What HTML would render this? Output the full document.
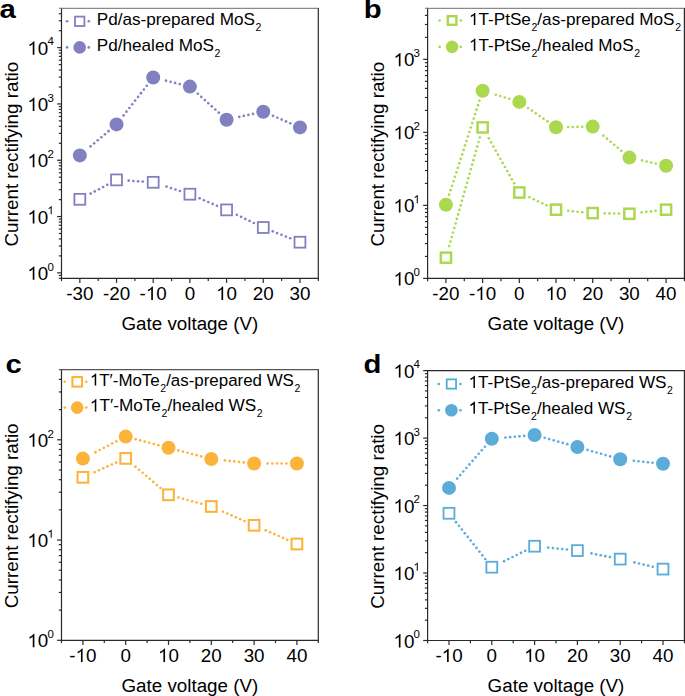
<!DOCTYPE html>
<html><head><meta charset="utf-8"><style>
html,body{margin:0;padding:0;background:#fff;}
svg{display:block;}
text{font-family:"Liberation Sans", sans-serif;fill:#000;}
.one{fill-opacity:0;}
</style></head><body>
<svg width="685" height="696" viewBox="0 0 685 696">
<line x1="60.9" y1="8.3" x2="318.9" y2="8.3" stroke="#8a8a8a" stroke-width="1.2"/>
<path d="M61.5,8.3 L61.5,278.3 L318.3,278.3 L318.3,8.3" fill="none" stroke="#2a2a2a" stroke-width="1.2" stroke-linejoin="miter"/>
<line x1="61.5" y1="278.3" x2="61.5" y2="281.1" stroke="#2a2a2a" stroke-width="1.2"/>
<line x1="79.84" y1="278.3" x2="79.84" y2="282.9" stroke="#2a2a2a" stroke-width="1.2"/>
<line x1="98.19" y1="278.3" x2="98.19" y2="281.1" stroke="#2a2a2a" stroke-width="1.2"/>
<line x1="116.53" y1="278.3" x2="116.53" y2="282.9" stroke="#2a2a2a" stroke-width="1.2"/>
<line x1="134.87" y1="278.3" x2="134.87" y2="281.1" stroke="#2a2a2a" stroke-width="1.2"/>
<line x1="153.21" y1="278.3" x2="153.21" y2="282.9" stroke="#2a2a2a" stroke-width="1.2"/>
<line x1="171.56" y1="278.3" x2="171.56" y2="281.1" stroke="#2a2a2a" stroke-width="1.2"/>
<line x1="189.9" y1="278.3" x2="189.9" y2="282.9" stroke="#2a2a2a" stroke-width="1.2"/>
<line x1="208.24" y1="278.3" x2="208.24" y2="281.1" stroke="#2a2a2a" stroke-width="1.2"/>
<line x1="226.59" y1="278.3" x2="226.59" y2="282.9" stroke="#2a2a2a" stroke-width="1.2"/>
<line x1="244.93" y1="278.3" x2="244.93" y2="281.1" stroke="#2a2a2a" stroke-width="1.2"/>
<line x1="263.27" y1="278.3" x2="263.27" y2="282.9" stroke="#2a2a2a" stroke-width="1.2"/>
<line x1="281.61" y1="278.3" x2="281.61" y2="281.1" stroke="#2a2a2a" stroke-width="1.2"/>
<line x1="299.96" y1="278.3" x2="299.96" y2="282.9" stroke="#2a2a2a" stroke-width="1.2"/>
<line x1="318.3" y1="278.3" x2="318.3" y2="281.1" stroke="#2a2a2a" stroke-width="1.2"/>
<text x="79.84" y="299.9" text-anchor="middle" font-size="18.8">-30</text>
<text x="116.53" y="299.9" text-anchor="middle" font-size="18.8">-20</text>
<text x="153.21" y="299.9" text-anchor="middle" font-size="18.8">-<tspan class="one">1</tspan>0</text>
<text x="189.9" y="299.9" text-anchor="middle" font-size="18.8">0</text>
<text x="226.59" y="299.9" text-anchor="middle" font-size="18.8"><tspan class="one">1</tspan>0</text>
<text x="263.27" y="299.9" text-anchor="middle" font-size="18.8">20</text>
<text x="299.96" y="299.9" text-anchor="middle" font-size="18.8">30</text>
<line x1="58.8" y1="278.3" x2="61.5" y2="278.3" stroke="#2a2a2a" stroke-width="1.2"/>
<line x1="58.8" y1="275.42" x2="61.5" y2="275.42" stroke="#2a2a2a" stroke-width="1.2"/>
<line x1="57.1" y1="272.84" x2="61.5" y2="272.84" stroke="#2a2a2a" stroke-width="1.2"/>
<line x1="58.8" y1="255.9" x2="61.5" y2="255.9" stroke="#2a2a2a" stroke-width="1.2"/>
<line x1="58.8" y1="245.98" x2="61.5" y2="245.98" stroke="#2a2a2a" stroke-width="1.2"/>
<line x1="58.8" y1="238.95" x2="61.5" y2="238.95" stroke="#2a2a2a" stroke-width="1.2"/>
<line x1="58.8" y1="233.49" x2="61.5" y2="233.49" stroke="#2a2a2a" stroke-width="1.2"/>
<line x1="58.8" y1="229.04" x2="61.5" y2="229.04" stroke="#2a2a2a" stroke-width="1.2"/>
<line x1="58.8" y1="225.27" x2="61.5" y2="225.27" stroke="#2a2a2a" stroke-width="1.2"/>
<line x1="58.8" y1="222" x2="61.5" y2="222" stroke="#2a2a2a" stroke-width="1.2"/>
<line x1="58.8" y1="219.12" x2="61.5" y2="219.12" stroke="#2a2a2a" stroke-width="1.2"/>
<line x1="57.1" y1="216.55" x2="61.5" y2="216.55" stroke="#2a2a2a" stroke-width="1.2"/>
<line x1="58.8" y1="199.6" x2="61.5" y2="199.6" stroke="#2a2a2a" stroke-width="1.2"/>
<line x1="58.8" y1="189.68" x2="61.5" y2="189.68" stroke="#2a2a2a" stroke-width="1.2"/>
<line x1="58.8" y1="182.65" x2="61.5" y2="182.65" stroke="#2a2a2a" stroke-width="1.2"/>
<line x1="58.8" y1="177.19" x2="61.5" y2="177.19" stroke="#2a2a2a" stroke-width="1.2"/>
<line x1="58.8" y1="172.74" x2="61.5" y2="172.74" stroke="#2a2a2a" stroke-width="1.2"/>
<line x1="58.8" y1="168.97" x2="61.5" y2="168.97" stroke="#2a2a2a" stroke-width="1.2"/>
<line x1="58.8" y1="165.7" x2="61.5" y2="165.7" stroke="#2a2a2a" stroke-width="1.2"/>
<line x1="58.8" y1="162.82" x2="61.5" y2="162.82" stroke="#2a2a2a" stroke-width="1.2"/>
<line x1="57.1" y1="160.25" x2="61.5" y2="160.25" stroke="#2a2a2a" stroke-width="1.2"/>
<line x1="58.8" y1="143.3" x2="61.5" y2="143.3" stroke="#2a2a2a" stroke-width="1.2"/>
<line x1="58.8" y1="133.39" x2="61.5" y2="133.39" stroke="#2a2a2a" stroke-width="1.2"/>
<line x1="58.8" y1="126.35" x2="61.5" y2="126.35" stroke="#2a2a2a" stroke-width="1.2"/>
<line x1="58.8" y1="120.9" x2="61.5" y2="120.9" stroke="#2a2a2a" stroke-width="1.2"/>
<line x1="58.8" y1="116.44" x2="61.5" y2="116.44" stroke="#2a2a2a" stroke-width="1.2"/>
<line x1="58.8" y1="112.67" x2="61.5" y2="112.67" stroke="#2a2a2a" stroke-width="1.2"/>
<line x1="58.8" y1="109.41" x2="61.5" y2="109.41" stroke="#2a2a2a" stroke-width="1.2"/>
<line x1="58.8" y1="106.53" x2="61.5" y2="106.53" stroke="#2a2a2a" stroke-width="1.2"/>
<line x1="57.1" y1="103.95" x2="61.5" y2="103.95" stroke="#2a2a2a" stroke-width="1.2"/>
<line x1="58.8" y1="87" x2="61.5" y2="87" stroke="#2a2a2a" stroke-width="1.2"/>
<line x1="58.8" y1="77.09" x2="61.5" y2="77.09" stroke="#2a2a2a" stroke-width="1.2"/>
<line x1="58.8" y1="70.05" x2="61.5" y2="70.05" stroke="#2a2a2a" stroke-width="1.2"/>
<line x1="58.8" y1="64.6" x2="61.5" y2="64.6" stroke="#2a2a2a" stroke-width="1.2"/>
<line x1="58.8" y1="60.14" x2="61.5" y2="60.14" stroke="#2a2a2a" stroke-width="1.2"/>
<line x1="58.8" y1="56.37" x2="61.5" y2="56.37" stroke="#2a2a2a" stroke-width="1.2"/>
<line x1="58.8" y1="53.11" x2="61.5" y2="53.11" stroke="#2a2a2a" stroke-width="1.2"/>
<line x1="58.8" y1="50.23" x2="61.5" y2="50.23" stroke="#2a2a2a" stroke-width="1.2"/>
<line x1="57.1" y1="47.65" x2="61.5" y2="47.65" stroke="#2a2a2a" stroke-width="1.2"/>
<line x1="58.8" y1="30.7" x2="61.5" y2="30.7" stroke="#2a2a2a" stroke-width="1.2"/>
<line x1="58.8" y1="20.79" x2="61.5" y2="20.79" stroke="#2a2a2a" stroke-width="1.2"/>
<line x1="58.8" y1="13.76" x2="61.5" y2="13.76" stroke="#2a2a2a" stroke-width="1.2"/>
<line x1="58.8" y1="8.3" x2="61.5" y2="8.3" stroke="#8a8a8a" stroke-width="1.2"/>
<text x="53.8" y="279.84" text-anchor="end" font-size="18.8"><tspan class="one">1</tspan>0<tspan font-size="11.5" dx="-0.9" dy="-9.2">0</tspan></text>
<text x="53.8" y="223.55" text-anchor="end" font-size="18.8"><tspan class="one">1</tspan>0<tspan font-size="11.5" dx="-0.9" dy="-9.2"><tspan class="one">1</tspan></tspan></text>
<text x="53.8" y="167.25" text-anchor="end" font-size="18.8"><tspan class="one">1</tspan>0<tspan font-size="11.5" dx="-0.9" dy="-9.2">2</tspan></text>
<text x="53.8" y="110.95" text-anchor="end" font-size="18.8"><tspan class="one">1</tspan>0<tspan font-size="11.5" dx="-0.9" dy="-9.2">3</tspan></text>
<text x="53.8" y="54.65" text-anchor="end" font-size="18.8"><tspan class="one">1</tspan>0<tspan font-size="11.5" dx="-0.9" dy="-9.2">4</tspan></text>
<text x="189.9" y="329.6" text-anchor="middle" font-size="18.8">Gate voltage (V)</text>
<text transform="translate(17.6,154.15) rotate(-90)" x="0" y="0" text-anchor="middle" font-size="18.8">Current rectifying ratio</text>
<circle cx="107.25" cy="184.81" r="1.325" fill="#8180c1"/>
<circle cx="103.09" cy="187.01" r="1.325" fill="#8180c1"/>
<circle cx="98.94" cy="189.2" r="1.325" fill="#8180c1"/>
<circle cx="94.78" cy="191.4" r="1.325" fill="#8180c1"/>
<circle cx="90.63" cy="193.6" r="1.325" fill="#8180c1"/>
<circle cx="142.74" cy="181.61" r="1.325" fill="#8180c1"/>
<circle cx="138.05" cy="181.31" r="1.325" fill="#8180c1"/>
<circle cx="133.36" cy="181" r="1.325" fill="#8180c1"/>
<circle cx="128.67" cy="180.69" r="1.325" fill="#8180c1"/>
<circle cx="179.91" cy="190.96" r="1.325" fill="#8180c1"/>
<circle cx="175.44" cy="189.51" r="1.325" fill="#8180c1"/>
<circle cx="170.97" cy="188.06" r="1.325" fill="#8180c1"/>
<circle cx="166.5" cy="186.61" r="1.325" fill="#8180c1"/>
<circle cx="216.93" cy="205.77" r="1.325" fill="#8180c1"/>
<circle cx="212.61" cy="203.92" r="1.325" fill="#8180c1"/>
<circle cx="208.29" cy="202.07" r="1.325" fill="#8180c1"/>
<circle cx="203.97" cy="200.22" r="1.325" fill="#8180c1"/>
<circle cx="199.65" cy="198.37" r="1.325" fill="#8180c1"/>
<circle cx="253.8" cy="222.96" r="1.325" fill="#8180c1"/>
<circle cx="249.57" cy="220.93" r="1.325" fill="#8180c1"/>
<circle cx="245.33" cy="218.89" r="1.325" fill="#8180c1"/>
<circle cx="241.09" cy="216.86" r="1.325" fill="#8180c1"/>
<circle cx="236.85" cy="214.83" r="1.325" fill="#8180c1"/>
<circle cx="290.21" cy="238.29" r="1.325" fill="#8180c1"/>
<circle cx="285.85" cy="236.55" r="1.325" fill="#8180c1"/>
<circle cx="281.48" cy="234.8" r="1.325" fill="#8180c1"/>
<circle cx="277.12" cy="233.05" r="1.325" fill="#8180c1"/>
<circle cx="272.76" cy="231.3" r="1.325" fill="#8180c1"/>
<circle cx="108.51" cy="131.18" r="1.325" fill="#8180c1"/>
<circle cx="104.92" cy="134.21" r="1.325" fill="#8180c1"/>
<circle cx="101.33" cy="137.24" r="1.325" fill="#8180c1"/>
<circle cx="97.74" cy="140.28" r="1.325" fill="#8180c1"/>
<circle cx="94.15" cy="143.31" r="1.325" fill="#8180c1"/>
<circle cx="90.56" cy="146.34" r="1.325" fill="#8180c1"/>
<circle cx="146.75" cy="85.77" r="1.325" fill="#8180c1"/>
<circle cx="143.85" cy="89.47" r="1.325" fill="#8180c1"/>
<circle cx="140.95" cy="93.17" r="1.325" fill="#8180c1"/>
<circle cx="138.06" cy="96.88" r="1.325" fill="#8180c1"/>
<circle cx="135.16" cy="100.58" r="1.325" fill="#8180c1"/>
<circle cx="132.27" cy="104.28" r="1.325" fill="#8180c1"/>
<circle cx="129.37" cy="107.98" r="1.325" fill="#8180c1"/>
<circle cx="126.47" cy="111.68" r="1.325" fill="#8180c1"/>
<circle cx="123.58" cy="115.39" r="1.325" fill="#8180c1"/>
<circle cx="179.71" cy="84.07" r="1.325" fill="#8180c1"/>
<circle cx="175.15" cy="82.94" r="1.325" fill="#8180c1"/>
<circle cx="170.59" cy="81.81" r="1.325" fill="#8180c1"/>
<circle cx="166.02" cy="80.68" r="1.325" fill="#8180c1"/>
<circle cx="218.79" cy="112.67" r="1.325" fill="#8180c1"/>
<circle cx="215.3" cy="109.52" r="1.325" fill="#8180c1"/>
<circle cx="211.81" cy="106.37" r="1.325" fill="#8180c1"/>
<circle cx="208.32" cy="103.22" r="1.325" fill="#8180c1"/>
<circle cx="204.83" cy="100.07" r="1.325" fill="#8180c1"/>
<circle cx="201.34" cy="96.92" r="1.325" fill="#8180c1"/>
<circle cx="197.85" cy="93.78" r="1.325" fill="#8180c1"/>
<circle cx="253.01" cy="113.94" r="1.325" fill="#8180c1"/>
<circle cx="248.42" cy="114.94" r="1.325" fill="#8180c1"/>
<circle cx="243.83" cy="115.94" r="1.325" fill="#8180c1"/>
<circle cx="239.24" cy="116.94" r="1.325" fill="#8180c1"/>
<circle cx="290.3" cy="123.27" r="1.325" fill="#8180c1"/>
<circle cx="285.98" cy="121.42" r="1.325" fill="#8180c1"/>
<circle cx="281.66" cy="119.57" r="1.325" fill="#8180c1"/>
<circle cx="277.34" cy="117.72" r="1.325" fill="#8180c1"/>
<circle cx="273.02" cy="115.87" r="1.325" fill="#8180c1"/>
<rect x="74.39" y="193.85" width="10.9" height="10.9" fill="#fff" stroke="#8180c1" stroke-width="1.8"/>
<rect x="111.08" y="174.45" width="10.9" height="10.9" fill="#fff" stroke="#8180c1" stroke-width="1.8"/>
<rect x="147.76" y="176.85" width="10.9" height="10.9" fill="#fff" stroke="#8180c1" stroke-width="1.8"/>
<rect x="184.45" y="188.75" width="10.9" height="10.9" fill="#fff" stroke="#8180c1" stroke-width="1.8"/>
<rect x="221.14" y="204.45" width="10.9" height="10.9" fill="#fff" stroke="#8180c1" stroke-width="1.8"/>
<rect x="257.82" y="222.05" width="10.9" height="10.9" fill="#fff" stroke="#8180c1" stroke-width="1.8"/>
<rect x="294.51" y="236.75" width="10.9" height="10.9" fill="#fff" stroke="#8180c1" stroke-width="1.8"/>
<circle cx="79.84" cy="155.4" r="7.0" fill="#8180c1"/>
<circle cx="116.53" cy="124.4" r="7.0" fill="#8180c1"/>
<circle cx="153.21" cy="77.5" r="7.0" fill="#8180c1"/>
<circle cx="189.9" cy="86.6" r="7.0" fill="#8180c1"/>
<circle cx="226.59" cy="119.7" r="7.0" fill="#8180c1"/>
<circle cx="263.27" cy="111.7" r="7.0" fill="#8180c1"/>
<circle cx="299.96" cy="127.4" r="7.0" fill="#8180c1"/>
<circle cx="67.1" cy="21.3" r="1.325" fill="#8180c1"/>
<circle cx="88.8" cy="21.3" r="1.325" fill="#8180c1"/>
<rect x="75" y="16.6" width="9.4" height="9.4" fill="#fff" stroke="#8180c1" stroke-width="1.8"/>
<text x="96.75" y="25.1" font-size="17.15"><tspan font-size="17.15" dy="0">Pd/as-prepared MoS</tspan><tspan font-size="10.5" dx="0.6" dy="6">2</tspan></text>
<circle cx="67.1" cy="47.4" r="1.325" fill="#8180c1"/>
<circle cx="88.8" cy="47.4" r="1.325" fill="#8180c1"/>
<circle cx="79.7" cy="47.4" r="6.3" fill="#8180c1"/>
<text x="96.75" y="51.1" font-size="17.15"><tspan font-size="17.15" dy="0">Pd/healed MoS</tspan><tspan font-size="10.5" dx="0.6" dy="6">2</tspan></text>
<line x1="427" y1="8.3" x2="685" y2="8.3" stroke="#8a8a8a" stroke-width="1.2"/>
<path d="M427.6,8.3 L427.6,278.4 L684.4,278.4 L684.4,8.3" fill="none" stroke="#2a2a2a" stroke-width="1.2" stroke-linejoin="miter"/>
<line x1="427.6" y1="278.4" x2="427.6" y2="281.2" stroke="#2a2a2a" stroke-width="1.2"/>
<line x1="445.94" y1="278.4" x2="445.94" y2="283" stroke="#2a2a2a" stroke-width="1.2"/>
<line x1="464.29" y1="278.4" x2="464.29" y2="281.2" stroke="#2a2a2a" stroke-width="1.2"/>
<line x1="482.63" y1="278.4" x2="482.63" y2="283" stroke="#2a2a2a" stroke-width="1.2"/>
<line x1="500.97" y1="278.4" x2="500.97" y2="281.2" stroke="#2a2a2a" stroke-width="1.2"/>
<line x1="519.31" y1="278.4" x2="519.31" y2="283" stroke="#2a2a2a" stroke-width="1.2"/>
<line x1="537.66" y1="278.4" x2="537.66" y2="281.2" stroke="#2a2a2a" stroke-width="1.2"/>
<line x1="556" y1="278.4" x2="556" y2="283" stroke="#2a2a2a" stroke-width="1.2"/>
<line x1="574.34" y1="278.4" x2="574.34" y2="281.2" stroke="#2a2a2a" stroke-width="1.2"/>
<line x1="592.69" y1="278.4" x2="592.69" y2="283" stroke="#2a2a2a" stroke-width="1.2"/>
<line x1="611.03" y1="278.4" x2="611.03" y2="281.2" stroke="#2a2a2a" stroke-width="1.2"/>
<line x1="629.37" y1="278.4" x2="629.37" y2="283" stroke="#2a2a2a" stroke-width="1.2"/>
<line x1="647.71" y1="278.4" x2="647.71" y2="281.2" stroke="#2a2a2a" stroke-width="1.2"/>
<line x1="666.06" y1="278.4" x2="666.06" y2="283" stroke="#2a2a2a" stroke-width="1.2"/>
<line x1="684.4" y1="278.4" x2="684.4" y2="281.2" stroke="#2a2a2a" stroke-width="1.2"/>
<text x="445.94" y="300" text-anchor="middle" font-size="18.8">-20</text>
<text x="482.63" y="300" text-anchor="middle" font-size="18.8">-<tspan class="one">1</tspan>0</text>
<text x="519.31" y="300" text-anchor="middle" font-size="18.8">0</text>
<text x="556" y="300" text-anchor="middle" font-size="18.8"><tspan class="one">1</tspan>0</text>
<text x="592.69" y="300" text-anchor="middle" font-size="18.8">20</text>
<text x="629.37" y="300" text-anchor="middle" font-size="18.8">30</text>
<text x="666.06" y="300" text-anchor="middle" font-size="18.8">40</text>
<line x1="423.2" y1="278.4" x2="427.6" y2="278.4" stroke="#2a2a2a" stroke-width="1.2"/>
<line x1="424.9" y1="256.42" x2="427.6" y2="256.42" stroke="#2a2a2a" stroke-width="1.2"/>
<line x1="424.9" y1="243.56" x2="427.6" y2="243.56" stroke="#2a2a2a" stroke-width="1.2"/>
<line x1="424.9" y1="234.44" x2="427.6" y2="234.44" stroke="#2a2a2a" stroke-width="1.2"/>
<line x1="424.9" y1="227.36" x2="427.6" y2="227.36" stroke="#2a2a2a" stroke-width="1.2"/>
<line x1="424.9" y1="221.58" x2="427.6" y2="221.58" stroke="#2a2a2a" stroke-width="1.2"/>
<line x1="424.9" y1="216.69" x2="427.6" y2="216.69" stroke="#2a2a2a" stroke-width="1.2"/>
<line x1="424.9" y1="212.46" x2="427.6" y2="212.46" stroke="#2a2a2a" stroke-width="1.2"/>
<line x1="424.9" y1="208.72" x2="427.6" y2="208.72" stroke="#2a2a2a" stroke-width="1.2"/>
<line x1="423.2" y1="205.38" x2="427.6" y2="205.38" stroke="#2a2a2a" stroke-width="1.2"/>
<line x1="424.9" y1="183.4" x2="427.6" y2="183.4" stroke="#2a2a2a" stroke-width="1.2"/>
<line x1="424.9" y1="170.54" x2="427.6" y2="170.54" stroke="#2a2a2a" stroke-width="1.2"/>
<line x1="424.9" y1="161.42" x2="427.6" y2="161.42" stroke="#2a2a2a" stroke-width="1.2"/>
<line x1="424.9" y1="154.34" x2="427.6" y2="154.34" stroke="#2a2a2a" stroke-width="1.2"/>
<line x1="424.9" y1="148.56" x2="427.6" y2="148.56" stroke="#2a2a2a" stroke-width="1.2"/>
<line x1="424.9" y1="143.67" x2="427.6" y2="143.67" stroke="#2a2a2a" stroke-width="1.2"/>
<line x1="424.9" y1="139.44" x2="427.6" y2="139.44" stroke="#2a2a2a" stroke-width="1.2"/>
<line x1="424.9" y1="135.7" x2="427.6" y2="135.7" stroke="#2a2a2a" stroke-width="1.2"/>
<line x1="423.2" y1="132.36" x2="427.6" y2="132.36" stroke="#2a2a2a" stroke-width="1.2"/>
<line x1="424.9" y1="110.38" x2="427.6" y2="110.38" stroke="#2a2a2a" stroke-width="1.2"/>
<line x1="424.9" y1="97.52" x2="427.6" y2="97.52" stroke="#2a2a2a" stroke-width="1.2"/>
<line x1="424.9" y1="88.4" x2="427.6" y2="88.4" stroke="#2a2a2a" stroke-width="1.2"/>
<line x1="424.9" y1="81.32" x2="427.6" y2="81.32" stroke="#2a2a2a" stroke-width="1.2"/>
<line x1="424.9" y1="75.54" x2="427.6" y2="75.54" stroke="#2a2a2a" stroke-width="1.2"/>
<line x1="424.9" y1="70.65" x2="427.6" y2="70.65" stroke="#2a2a2a" stroke-width="1.2"/>
<line x1="424.9" y1="66.42" x2="427.6" y2="66.42" stroke="#2a2a2a" stroke-width="1.2"/>
<line x1="424.9" y1="62.68" x2="427.6" y2="62.68" stroke="#2a2a2a" stroke-width="1.2"/>
<line x1="423.2" y1="59.34" x2="427.6" y2="59.34" stroke="#2a2a2a" stroke-width="1.2"/>
<line x1="424.9" y1="37.36" x2="427.6" y2="37.36" stroke="#2a2a2a" stroke-width="1.2"/>
<line x1="424.9" y1="24.5" x2="427.6" y2="24.5" stroke="#2a2a2a" stroke-width="1.2"/>
<line x1="424.9" y1="15.38" x2="427.6" y2="15.38" stroke="#2a2a2a" stroke-width="1.2"/>
<line x1="424.9" y1="8.3" x2="427.6" y2="8.3" stroke="#8a8a8a" stroke-width="1.2"/>
<text x="419.9" y="285.4" text-anchor="end" font-size="18.8"><tspan class="one">1</tspan>0<tspan font-size="11.5" dx="-0.9" dy="-9.2">0</tspan></text>
<text x="419.9" y="212.38" text-anchor="end" font-size="18.8"><tspan class="one">1</tspan>0<tspan font-size="11.5" dx="-0.9" dy="-9.2"><tspan class="one">1</tspan></tspan></text>
<text x="419.9" y="139.36" text-anchor="end" font-size="18.8"><tspan class="one">1</tspan>0<tspan font-size="11.5" dx="-0.9" dy="-9.2">2</tspan></text>
<text x="419.9" y="66.34" text-anchor="end" font-size="18.8"><tspan class="one">1</tspan>0<tspan font-size="11.5" dx="-0.9" dy="-9.2">3</tspan></text>
<text x="556" y="329.7" text-anchor="middle" font-size="18.8">Gate voltage (V)</text>
<text transform="translate(383.7,154.2) rotate(-90)" x="0" y="0" text-anchor="middle" font-size="18.8">Current rectifying ratio</text>
<circle cx="479.78" cy="137.51" r="1.325" fill="#aad950"/>
<circle cx="478.51" cy="142.03" r="1.325" fill="#aad950"/>
<circle cx="477.24" cy="146.56" r="1.325" fill="#aad950"/>
<circle cx="475.96" cy="151.08" r="1.325" fill="#aad950"/>
<circle cx="474.69" cy="155.6" r="1.325" fill="#aad950"/>
<circle cx="473.41" cy="160.13" r="1.325" fill="#aad950"/>
<circle cx="472.14" cy="164.65" r="1.325" fill="#aad950"/>
<circle cx="470.87" cy="169.18" r="1.325" fill="#aad950"/>
<circle cx="469.59" cy="173.7" r="1.325" fill="#aad950"/>
<circle cx="468.32" cy="178.22" r="1.325" fill="#aad950"/>
<circle cx="467.05" cy="182.75" r="1.325" fill="#aad950"/>
<circle cx="465.77" cy="187.27" r="1.325" fill="#aad950"/>
<circle cx="464.5" cy="191.8" r="1.325" fill="#aad950"/>
<circle cx="463.22" cy="196.32" r="1.325" fill="#aad950"/>
<circle cx="461.95" cy="200.84" r="1.325" fill="#aad950"/>
<circle cx="460.68" cy="205.37" r="1.325" fill="#aad950"/>
<circle cx="459.4" cy="209.89" r="1.325" fill="#aad950"/>
<circle cx="458.13" cy="214.42" r="1.325" fill="#aad950"/>
<circle cx="456.86" cy="218.94" r="1.325" fill="#aad950"/>
<circle cx="455.58" cy="223.47" r="1.325" fill="#aad950"/>
<circle cx="454.31" cy="227.99" r="1.325" fill="#aad950"/>
<circle cx="453.03" cy="232.51" r="1.325" fill="#aad950"/>
<circle cx="451.76" cy="237.04" r="1.325" fill="#aad950"/>
<circle cx="450.49" cy="241.56" r="1.325" fill="#aad950"/>
<circle cx="449.21" cy="246.09" r="1.325" fill="#aad950"/>
<circle cx="514.16" cy="183.35" r="1.325" fill="#aad950"/>
<circle cx="511.85" cy="179.26" r="1.325" fill="#aad950"/>
<circle cx="509.54" cy="175.16" r="1.325" fill="#aad950"/>
<circle cx="507.24" cy="171.07" r="1.325" fill="#aad950"/>
<circle cx="504.93" cy="166.97" r="1.325" fill="#aad950"/>
<circle cx="502.62" cy="162.88" r="1.325" fill="#aad950"/>
<circle cx="500.31" cy="158.78" r="1.325" fill="#aad950"/>
<circle cx="498.01" cy="154.69" r="1.325" fill="#aad950"/>
<circle cx="495.7" cy="150.6" r="1.325" fill="#aad950"/>
<circle cx="493.39" cy="146.5" r="1.325" fill="#aad950"/>
<circle cx="491.09" cy="142.41" r="1.325" fill="#aad950"/>
<circle cx="488.78" cy="138.31" r="1.325" fill="#aad950"/>
<circle cx="546.49" cy="205.24" r="1.325" fill="#aad950"/>
<circle cx="542.24" cy="203.25" r="1.325" fill="#aad950"/>
<circle cx="537.98" cy="201.25" r="1.325" fill="#aad950"/>
<circle cx="533.73" cy="199.26" r="1.325" fill="#aad950"/>
<circle cx="529.47" cy="197.26" r="1.325" fill="#aad950"/>
<circle cx="582.23" cy="212.13" r="1.325" fill="#aad950"/>
<circle cx="577.55" cy="211.7" r="1.325" fill="#aad950"/>
<circle cx="572.87" cy="211.26" r="1.325" fill="#aad950"/>
<circle cx="568.19" cy="210.83" r="1.325" fill="#aad950"/>
<circle cx="618.87" cy="213.6" r="1.325" fill="#aad950"/>
<circle cx="614.17" cy="213.51" r="1.325" fill="#aad950"/>
<circle cx="609.48" cy="213.42" r="1.325" fill="#aad950"/>
<circle cx="604.78" cy="213.33" r="1.325" fill="#aad950"/>
<circle cx="655.62" cy="210.87" r="1.325" fill="#aad950"/>
<circle cx="650.95" cy="211.39" r="1.325" fill="#aad950"/>
<circle cx="646.28" cy="211.91" r="1.325" fill="#aad950"/>
<circle cx="641.61" cy="212.43" r="1.325" fill="#aad950"/>
<circle cx="479.41" cy="100.7" r="1.325" fill="#aad950"/>
<circle cx="477.98" cy="105.17" r="1.325" fill="#aad950"/>
<circle cx="476.54" cy="109.64" r="1.325" fill="#aad950"/>
<circle cx="475.1" cy="114.12" r="1.325" fill="#aad950"/>
<circle cx="473.66" cy="118.59" r="1.325" fill="#aad950"/>
<circle cx="472.22" cy="123.07" r="1.325" fill="#aad950"/>
<circle cx="470.78" cy="127.54" r="1.325" fill="#aad950"/>
<circle cx="469.34" cy="132.02" r="1.325" fill="#aad950"/>
<circle cx="467.91" cy="136.49" r="1.325" fill="#aad950"/>
<circle cx="466.47" cy="140.97" r="1.325" fill="#aad950"/>
<circle cx="465.03" cy="145.44" r="1.325" fill="#aad950"/>
<circle cx="463.59" cy="149.91" r="1.325" fill="#aad950"/>
<circle cx="462.15" cy="154.39" r="1.325" fill="#aad950"/>
<circle cx="460.71" cy="158.86" r="1.325" fill="#aad950"/>
<circle cx="459.27" cy="163.34" r="1.325" fill="#aad950"/>
<circle cx="457.84" cy="167.81" r="1.325" fill="#aad950"/>
<circle cx="456.4" cy="172.29" r="1.325" fill="#aad950"/>
<circle cx="454.96" cy="176.76" r="1.325" fill="#aad950"/>
<circle cx="453.52" cy="181.24" r="1.325" fill="#aad950"/>
<circle cx="452.08" cy="185.71" r="1.325" fill="#aad950"/>
<circle cx="450.64" cy="190.18" r="1.325" fill="#aad950"/>
<circle cx="449.2" cy="194.66" r="1.325" fill="#aad950"/>
<circle cx="509.27" cy="98.83" r="1.325" fill="#aad950"/>
<circle cx="504.78" cy="97.46" r="1.325" fill="#aad950"/>
<circle cx="500.28" cy="96.09" r="1.325" fill="#aad950"/>
<circle cx="495.79" cy="94.72" r="1.325" fill="#aad950"/>
<circle cx="547.37" cy="121.32" r="1.325" fill="#aad950"/>
<circle cx="543.5" cy="118.65" r="1.325" fill="#aad950"/>
<circle cx="539.64" cy="115.97" r="1.325" fill="#aad950"/>
<circle cx="535.77" cy="113.3" r="1.325" fill="#aad950"/>
<circle cx="531.91" cy="110.62" r="1.325" fill="#aad950"/>
<circle cx="528.05" cy="107.95" r="1.325" fill="#aad950"/>
<circle cx="582.19" cy="126.8" r="1.325" fill="#aad950"/>
<circle cx="577.49" cy="126.89" r="1.325" fill="#aad950"/>
<circle cx="572.79" cy="126.98" r="1.325" fill="#aad950"/>
<circle cx="568.09" cy="127.07" r="1.325" fill="#aad950"/>
<circle cx="621.35" cy="150.82" r="1.325" fill="#aad950"/>
<circle cx="617.76" cy="147.79" r="1.325" fill="#aad950"/>
<circle cx="614.17" cy="144.76" r="1.325" fill="#aad950"/>
<circle cx="610.58" cy="141.72" r="1.325" fill="#aad950"/>
<circle cx="606.99" cy="138.69" r="1.325" fill="#aad950"/>
<circle cx="603.4" cy="135.66" r="1.325" fill="#aad950"/>
<circle cx="655.81" cy="163.51" r="1.325" fill="#aad950"/>
<circle cx="651.22" cy="162.48" r="1.325" fill="#aad950"/>
<circle cx="646.64" cy="161.46" r="1.325" fill="#aad950"/>
<circle cx="642.05" cy="160.43" r="1.325" fill="#aad950"/>
<rect x="440.84" y="252.6" width="10.2" height="10.2" fill="#fff" stroke="#aad950" stroke-width="2.45"/>
<rect x="477.53" y="122.3" width="10.2" height="10.2" fill="#fff" stroke="#aad950" stroke-width="2.45"/>
<rect x="514.21" y="187.4" width="10.2" height="10.2" fill="#fff" stroke="#aad950" stroke-width="2.45"/>
<rect x="550.9" y="204.6" width="10.2" height="10.2" fill="#fff" stroke="#aad950" stroke-width="2.45"/>
<rect x="587.59" y="208" width="10.2" height="10.2" fill="#fff" stroke="#aad950" stroke-width="2.45"/>
<rect x="624.27" y="208.7" width="10.2" height="10.2" fill="#fff" stroke="#aad950" stroke-width="2.45"/>
<rect x="660.96" y="204.6" width="10.2" height="10.2" fill="#fff" stroke="#aad950" stroke-width="2.45"/>
<circle cx="445.94" cy="204.8" r="7.0" fill="#aad950"/>
<circle cx="482.63" cy="90.7" r="7.0" fill="#aad950"/>
<circle cx="519.31" cy="101.9" r="7.0" fill="#aad950"/>
<circle cx="556" cy="127.3" r="7.0" fill="#aad950"/>
<circle cx="592.69" cy="126.6" r="7.0" fill="#aad950"/>
<circle cx="629.37" cy="157.6" r="7.0" fill="#aad950"/>
<circle cx="666.06" cy="165.8" r="7.0" fill="#aad950"/>
<circle cx="439.6" cy="20.5" r="1.325" fill="#aad950"/>
<circle cx="460.8" cy="20.5" r="1.325" fill="#aad950"/>
<rect x="447.8" y="16.2" width="8.6" height="8.6" fill="#fff" stroke="#aad950" stroke-width="2.45"/>
<text x="468.95" y="24.9" font-size="17.15"><tspan font-size="17.15" dy="0"><tspan class="one">1</tspan>T-PtSe</tspan><tspan font-size="10.5" dx="0.6" dy="6">2</tspan><tspan font-size="17.15" dy="-6">/as-prepared MoS</tspan><tspan font-size="10.5" dx="0.6" dy="6">2</tspan></text>
<circle cx="439.6" cy="46.9" r="1.325" fill="#aad950"/>
<circle cx="460.8" cy="46.9" r="1.325" fill="#aad950"/>
<circle cx="452.1" cy="46.9" r="6.3" fill="#aad950"/>
<text x="468.95" y="50.7" font-size="17.15"><tspan font-size="17.15" dy="0"><tspan class="one">1</tspan>T-PtSe</tspan><tspan font-size="10.5" dx="0.6" dy="6">2</tspan><tspan font-size="17.15" dy="-6">/healed MoS</tspan><tspan font-size="10.5" dx="0.6" dy="6">2</tspan></text>
<line x1="60.9" y1="369.7" x2="318.9" y2="369.7" stroke="#555" stroke-width="1.2"/>
<path d="M61.5,369.7 L61.5,640.3 L318.3,640.3 L318.3,369.7" fill="none" stroke="#2a2a2a" stroke-width="1.2" stroke-linejoin="miter"/>
<line x1="61.5" y1="640.3" x2="61.5" y2="643.1" stroke="#2a2a2a" stroke-width="1.2"/>
<line x1="82.9" y1="640.3" x2="82.9" y2="644.9" stroke="#2a2a2a" stroke-width="1.2"/>
<line x1="104.3" y1="640.3" x2="104.3" y2="643.1" stroke="#2a2a2a" stroke-width="1.2"/>
<line x1="125.7" y1="640.3" x2="125.7" y2="644.9" stroke="#2a2a2a" stroke-width="1.2"/>
<line x1="147.1" y1="640.3" x2="147.1" y2="643.1" stroke="#2a2a2a" stroke-width="1.2"/>
<line x1="168.5" y1="640.3" x2="168.5" y2="644.9" stroke="#2a2a2a" stroke-width="1.2"/>
<line x1="189.9" y1="640.3" x2="189.9" y2="643.1" stroke="#2a2a2a" stroke-width="1.2"/>
<line x1="211.3" y1="640.3" x2="211.3" y2="644.9" stroke="#2a2a2a" stroke-width="1.2"/>
<line x1="232.7" y1="640.3" x2="232.7" y2="643.1" stroke="#2a2a2a" stroke-width="1.2"/>
<line x1="254.1" y1="640.3" x2="254.1" y2="644.9" stroke="#2a2a2a" stroke-width="1.2"/>
<line x1="275.5" y1="640.3" x2="275.5" y2="643.1" stroke="#2a2a2a" stroke-width="1.2"/>
<line x1="296.9" y1="640.3" x2="296.9" y2="644.9" stroke="#2a2a2a" stroke-width="1.2"/>
<line x1="318.3" y1="640.3" x2="318.3" y2="643.1" stroke="#2a2a2a" stroke-width="1.2"/>
<text x="82.9" y="661.9" text-anchor="middle" font-size="18.8">-<tspan class="one">1</tspan>0</text>
<text x="125.7" y="661.9" text-anchor="middle" font-size="18.8">0</text>
<text x="168.5" y="661.9" text-anchor="middle" font-size="18.8"><tspan class="one">1</tspan>0</text>
<text x="211.3" y="661.9" text-anchor="middle" font-size="18.8">20</text>
<text x="254.1" y="661.9" text-anchor="middle" font-size="18.8">30</text>
<text x="296.9" y="661.9" text-anchor="middle" font-size="18.8">40</text>
<line x1="57.1" y1="640.3" x2="61.5" y2="640.3" stroke="#2a2a2a" stroke-width="1.2"/>
<line x1="58.8" y1="610.12" x2="61.5" y2="610.12" stroke="#2a2a2a" stroke-width="1.2"/>
<line x1="58.8" y1="592.46" x2="61.5" y2="592.46" stroke="#2a2a2a" stroke-width="1.2"/>
<line x1="58.8" y1="579.94" x2="61.5" y2="579.94" stroke="#2a2a2a" stroke-width="1.2"/>
<line x1="58.8" y1="570.22" x2="61.5" y2="570.22" stroke="#2a2a2a" stroke-width="1.2"/>
<line x1="58.8" y1="562.28" x2="61.5" y2="562.28" stroke="#2a2a2a" stroke-width="1.2"/>
<line x1="58.8" y1="555.57" x2="61.5" y2="555.57" stroke="#2a2a2a" stroke-width="1.2"/>
<line x1="58.8" y1="549.76" x2="61.5" y2="549.76" stroke="#2a2a2a" stroke-width="1.2"/>
<line x1="58.8" y1="544.63" x2="61.5" y2="544.63" stroke="#2a2a2a" stroke-width="1.2"/>
<line x1="57.1" y1="540.04" x2="61.5" y2="540.04" stroke="#2a2a2a" stroke-width="1.2"/>
<line x1="58.8" y1="509.86" x2="61.5" y2="509.86" stroke="#2a2a2a" stroke-width="1.2"/>
<line x1="58.8" y1="492.2" x2="61.5" y2="492.2" stroke="#2a2a2a" stroke-width="1.2"/>
<line x1="58.8" y1="479.68" x2="61.5" y2="479.68" stroke="#2a2a2a" stroke-width="1.2"/>
<line x1="58.8" y1="469.96" x2="61.5" y2="469.96" stroke="#2a2a2a" stroke-width="1.2"/>
<line x1="58.8" y1="462.02" x2="61.5" y2="462.02" stroke="#2a2a2a" stroke-width="1.2"/>
<line x1="58.8" y1="455.31" x2="61.5" y2="455.31" stroke="#2a2a2a" stroke-width="1.2"/>
<line x1="58.8" y1="449.5" x2="61.5" y2="449.5" stroke="#2a2a2a" stroke-width="1.2"/>
<line x1="58.8" y1="444.37" x2="61.5" y2="444.37" stroke="#2a2a2a" stroke-width="1.2"/>
<line x1="57.1" y1="439.78" x2="61.5" y2="439.78" stroke="#2a2a2a" stroke-width="1.2"/>
<line x1="58.8" y1="409.6" x2="61.5" y2="409.6" stroke="#2a2a2a" stroke-width="1.2"/>
<line x1="58.8" y1="391.94" x2="61.5" y2="391.94" stroke="#2a2a2a" stroke-width="1.2"/>
<line x1="58.8" y1="379.42" x2="61.5" y2="379.42" stroke="#2a2a2a" stroke-width="1.2"/>
<line x1="58.8" y1="369.7" x2="61.5" y2="369.7" stroke="#555" stroke-width="1.2"/>
<text x="53.8" y="647.3" text-anchor="end" font-size="18.8"><tspan class="one">1</tspan>0<tspan font-size="11.5" dx="-0.9" dy="-9.2">0</tspan></text>
<text x="53.8" y="547.04" text-anchor="end" font-size="18.8"><tspan class="one">1</tspan>0<tspan font-size="11.5" dx="-0.9" dy="-9.2"><tspan class="one">1</tspan></tspan></text>
<text x="53.8" y="446.78" text-anchor="end" font-size="18.8"><tspan class="one">1</tspan>0<tspan font-size="11.5" dx="-0.9" dy="-9.2">2</tspan></text>
<text x="189.9" y="691.6" text-anchor="middle" font-size="18.8">Gate voltage (V)</text>
<text transform="translate(17.6,515.85) rotate(-90)" x="0" y="0" text-anchor="middle" font-size="18.8">Current rectifying ratio</text>
<circle cx="116.09" cy="462.64" r="1.325" fill="#fcb33a"/>
<circle cx="111.8" cy="464.54" r="1.325" fill="#fcb33a"/>
<circle cx="107.5" cy="466.44" r="1.325" fill="#fcb33a"/>
<circle cx="103.2" cy="468.34" r="1.325" fill="#fcb33a"/>
<circle cx="98.9" cy="470.24" r="1.325" fill="#fcb33a"/>
<circle cx="94.6" cy="472.13" r="1.325" fill="#fcb33a"/>
<circle cx="160.5" cy="488" r="1.325" fill="#fcb33a"/>
<circle cx="156.92" cy="484.95" r="1.325" fill="#fcb33a"/>
<circle cx="153.34" cy="481.91" r="1.325" fill="#fcb33a"/>
<circle cx="149.76" cy="478.86" r="1.325" fill="#fcb33a"/>
<circle cx="146.18" cy="475.82" r="1.325" fill="#fcb33a"/>
<circle cx="142.6" cy="472.77" r="1.325" fill="#fcb33a"/>
<circle cx="139.02" cy="469.73" r="1.325" fill="#fcb33a"/>
<circle cx="135.44" cy="466.68" r="1.325" fill="#fcb33a"/>
<circle cx="201.17" cy="503.73" r="1.325" fill="#fcb33a"/>
<circle cx="196.64" cy="502.49" r="1.325" fill="#fcb33a"/>
<circle cx="192.1" cy="501.25" r="1.325" fill="#fcb33a"/>
<circle cx="187.57" cy="500.01" r="1.325" fill="#fcb33a"/>
<circle cx="183.04" cy="498.77" r="1.325" fill="#fcb33a"/>
<circle cx="178.5" cy="497.53" r="1.325" fill="#fcb33a"/>
<circle cx="244.49" cy="521.08" r="1.325" fill="#fcb33a"/>
<circle cx="240.18" cy="519.19" r="1.325" fill="#fcb33a"/>
<circle cx="235.88" cy="517.3" r="1.325" fill="#fcb33a"/>
<circle cx="231.58" cy="515.41" r="1.325" fill="#fcb33a"/>
<circle cx="227.27" cy="513.52" r="1.325" fill="#fcb33a"/>
<circle cx="222.97" cy="511.63" r="1.325" fill="#fcb33a"/>
<circle cx="287.28" cy="539.8" r="1.325" fill="#fcb33a"/>
<circle cx="282.97" cy="537.91" r="1.325" fill="#fcb33a"/>
<circle cx="278.66" cy="536.03" r="1.325" fill="#fcb33a"/>
<circle cx="274.36" cy="534.15" r="1.325" fill="#fcb33a"/>
<circle cx="270.05" cy="532.27" r="1.325" fill="#fcb33a"/>
<circle cx="265.74" cy="530.39" r="1.325" fill="#fcb33a"/>
<circle cx="116.36" cy="441.4" r="1.325" fill="#fcb33a"/>
<circle cx="112.18" cy="443.55" r="1.325" fill="#fcb33a"/>
<circle cx="108" cy="445.7" r="1.325" fill="#fcb33a"/>
<circle cx="103.82" cy="447.85" r="1.325" fill="#fcb33a"/>
<circle cx="99.64" cy="449.99" r="1.325" fill="#fcb33a"/>
<circle cx="95.46" cy="452.14" r="1.325" fill="#fcb33a"/>
<circle cx="158.34" cy="445.14" r="1.325" fill="#fcb33a"/>
<circle cx="153.8" cy="443.95" r="1.325" fill="#fcb33a"/>
<circle cx="149.25" cy="442.76" r="1.325" fill="#fcb33a"/>
<circle cx="144.7" cy="441.57" r="1.325" fill="#fcb33a"/>
<circle cx="140.15" cy="440.38" r="1.325" fill="#fcb33a"/>
<circle cx="135.61" cy="439.19" r="1.325" fill="#fcb33a"/>
<circle cx="201.14" cy="456.34" r="1.325" fill="#fcb33a"/>
<circle cx="196.6" cy="455.15" r="1.325" fill="#fcb33a"/>
<circle cx="192.05" cy="453.96" r="1.325" fill="#fcb33a"/>
<circle cx="187.5" cy="452.77" r="1.325" fill="#fcb33a"/>
<circle cx="182.95" cy="451.58" r="1.325" fill="#fcb33a"/>
<circle cx="178.41" cy="450.39" r="1.325" fill="#fcb33a"/>
<circle cx="243.66" cy="462.4" r="1.325" fill="#fcb33a"/>
<circle cx="238.98" cy="461.91" r="1.325" fill="#fcb33a"/>
<circle cx="234.31" cy="461.42" r="1.325" fill="#fcb33a"/>
<circle cx="229.63" cy="460.93" r="1.325" fill="#fcb33a"/>
<circle cx="224.96" cy="460.44" r="1.325" fill="#fcb33a"/>
<circle cx="286.4" cy="463.5" r="1.325" fill="#fcb33a"/>
<circle cx="281.7" cy="463.5" r="1.325" fill="#fcb33a"/>
<circle cx="277" cy="463.5" r="1.325" fill="#fcb33a"/>
<circle cx="272.3" cy="463.5" r="1.325" fill="#fcb33a"/>
<circle cx="267.6" cy="463.5" r="1.325" fill="#fcb33a"/>
<rect x="77.55" y="471.95" width="10.7" height="10.7" fill="#fff" stroke="#fcb33a" stroke-width="2.05"/>
<rect x="120.35" y="453.05" width="10.7" height="10.7" fill="#fff" stroke="#fcb33a" stroke-width="2.05"/>
<rect x="163.15" y="489.45" width="10.7" height="10.7" fill="#fff" stroke="#fcb33a" stroke-width="2.05"/>
<rect x="205.95" y="501.15" width="10.7" height="10.7" fill="#fff" stroke="#fcb33a" stroke-width="2.05"/>
<rect x="248.75" y="519.95" width="10.7" height="10.7" fill="#fff" stroke="#fcb33a" stroke-width="2.05"/>
<rect x="291.55" y="538.65" width="10.7" height="10.7" fill="#fff" stroke="#fcb33a" stroke-width="2.05"/>
<circle cx="82.9" cy="458.6" r="7.0" fill="#fcb33a"/>
<circle cx="125.7" cy="436.6" r="7.0" fill="#fcb33a"/>
<circle cx="168.5" cy="447.8" r="7.0" fill="#fcb33a"/>
<circle cx="211.3" cy="459" r="7.0" fill="#fcb33a"/>
<circle cx="254.1" cy="463.5" r="7.0" fill="#fcb33a"/>
<circle cx="296.9" cy="463.5" r="7.0" fill="#fcb33a"/>
<circle cx="64.7" cy="381.8" r="1.325" fill="#fcb33a"/>
<circle cx="86.3" cy="381.8" r="1.325" fill="#fcb33a"/>
<rect x="72.4" y="377" width="9.6" height="9.6" fill="#fff" stroke="#fcb33a" stroke-width="2.05"/>
<text x="89.9" y="385.6" font-size="16.9"><tspan font-size="16.9" dy="0"><tspan class="one">1</tspan>T′-MoTe</tspan><tspan font-size="10.5" dx="0.6" dy="6">2</tspan><tspan font-size="16.9" dy="-6">/as-prepared WS</tspan><tspan font-size="10.5" dx="0.6" dy="6">2</tspan></text>
<circle cx="64.7" cy="407.6" r="1.325" fill="#fcb33a"/>
<circle cx="86.3" cy="407.6" r="1.325" fill="#fcb33a"/>
<circle cx="77.2" cy="407.6" r="6.3" fill="#fcb33a"/>
<text x="89.9" y="411.4" font-size="17.2"><tspan font-size="17.2" dy="0"><tspan class="one">1</tspan>T′-MoTe</tspan><tspan font-size="10.5" dx="0.6" dy="6">2</tspan><tspan font-size="17.2" dy="-6">/healed WS</tspan><tspan font-size="10.5" dx="0.6" dy="6">2</tspan></text>
<line x1="427" y1="370.6" x2="685" y2="370.6" stroke="#2a2a2a" stroke-width="1.2"/>
<path d="M427.6,370.6 L427.6,640.5 L684.4,640.5 L684.4,370.6" fill="none" stroke="#2a2a2a" stroke-width="1.2" stroke-linejoin="miter"/>
<line x1="427.6" y1="640.5" x2="427.6" y2="643.3" stroke="#2a2a2a" stroke-width="1.2"/>
<line x1="449" y1="640.5" x2="449" y2="645.1" stroke="#2a2a2a" stroke-width="1.2"/>
<line x1="470.4" y1="640.5" x2="470.4" y2="643.3" stroke="#2a2a2a" stroke-width="1.2"/>
<line x1="491.8" y1="640.5" x2="491.8" y2="645.1" stroke="#2a2a2a" stroke-width="1.2"/>
<line x1="513.2" y1="640.5" x2="513.2" y2="643.3" stroke="#2a2a2a" stroke-width="1.2"/>
<line x1="534.6" y1="640.5" x2="534.6" y2="645.1" stroke="#2a2a2a" stroke-width="1.2"/>
<line x1="556" y1="640.5" x2="556" y2="643.3" stroke="#2a2a2a" stroke-width="1.2"/>
<line x1="577.4" y1="640.5" x2="577.4" y2="645.1" stroke="#2a2a2a" stroke-width="1.2"/>
<line x1="598.8" y1="640.5" x2="598.8" y2="643.3" stroke="#2a2a2a" stroke-width="1.2"/>
<line x1="620.2" y1="640.5" x2="620.2" y2="645.1" stroke="#2a2a2a" stroke-width="1.2"/>
<line x1="641.6" y1="640.5" x2="641.6" y2="643.3" stroke="#2a2a2a" stroke-width="1.2"/>
<line x1="663" y1="640.5" x2="663" y2="645.1" stroke="#2a2a2a" stroke-width="1.2"/>
<line x1="684.4" y1="640.5" x2="684.4" y2="643.3" stroke="#2a2a2a" stroke-width="1.2"/>
<text x="449" y="662.1" text-anchor="middle" font-size="18.8">-<tspan class="one">1</tspan>0</text>
<text x="491.8" y="662.1" text-anchor="middle" font-size="18.8">0</text>
<text x="534.6" y="662.1" text-anchor="middle" font-size="18.8"><tspan class="one">1</tspan>0</text>
<text x="577.4" y="662.1" text-anchor="middle" font-size="18.8">20</text>
<text x="620.2" y="662.1" text-anchor="middle" font-size="18.8">30</text>
<text x="663" y="662.1" text-anchor="middle" font-size="18.8">40</text>
<line x1="423.2" y1="640.5" x2="427.6" y2="640.5" stroke="#2a2a2a" stroke-width="1.2"/>
<line x1="424.9" y1="620.19" x2="427.6" y2="620.19" stroke="#2a2a2a" stroke-width="1.2"/>
<line x1="424.9" y1="608.31" x2="427.6" y2="608.31" stroke="#2a2a2a" stroke-width="1.2"/>
<line x1="424.9" y1="599.88" x2="427.6" y2="599.88" stroke="#2a2a2a" stroke-width="1.2"/>
<line x1="424.9" y1="593.34" x2="427.6" y2="593.34" stroke="#2a2a2a" stroke-width="1.2"/>
<line x1="424.9" y1="587.99" x2="427.6" y2="587.99" stroke="#2a2a2a" stroke-width="1.2"/>
<line x1="424.9" y1="583.48" x2="427.6" y2="583.48" stroke="#2a2a2a" stroke-width="1.2"/>
<line x1="424.9" y1="579.56" x2="427.6" y2="579.56" stroke="#2a2a2a" stroke-width="1.2"/>
<line x1="424.9" y1="576.11" x2="427.6" y2="576.11" stroke="#2a2a2a" stroke-width="1.2"/>
<line x1="423.2" y1="573.02" x2="427.6" y2="573.02" stroke="#2a2a2a" stroke-width="1.2"/>
<line x1="424.9" y1="552.71" x2="427.6" y2="552.71" stroke="#2a2a2a" stroke-width="1.2"/>
<line x1="424.9" y1="540.83" x2="427.6" y2="540.83" stroke="#2a2a2a" stroke-width="1.2"/>
<line x1="424.9" y1="532.4" x2="427.6" y2="532.4" stroke="#2a2a2a" stroke-width="1.2"/>
<line x1="424.9" y1="525.86" x2="427.6" y2="525.86" stroke="#2a2a2a" stroke-width="1.2"/>
<line x1="424.9" y1="520.52" x2="427.6" y2="520.52" stroke="#2a2a2a" stroke-width="1.2"/>
<line x1="424.9" y1="516" x2="427.6" y2="516" stroke="#2a2a2a" stroke-width="1.2"/>
<line x1="424.9" y1="512.09" x2="427.6" y2="512.09" stroke="#2a2a2a" stroke-width="1.2"/>
<line x1="424.9" y1="508.64" x2="427.6" y2="508.64" stroke="#2a2a2a" stroke-width="1.2"/>
<line x1="423.2" y1="505.55" x2="427.6" y2="505.55" stroke="#2a2a2a" stroke-width="1.2"/>
<line x1="424.9" y1="485.24" x2="427.6" y2="485.24" stroke="#2a2a2a" stroke-width="1.2"/>
<line x1="424.9" y1="473.36" x2="427.6" y2="473.36" stroke="#2a2a2a" stroke-width="1.2"/>
<line x1="424.9" y1="464.93" x2="427.6" y2="464.93" stroke="#2a2a2a" stroke-width="1.2"/>
<line x1="424.9" y1="458.39" x2="427.6" y2="458.39" stroke="#2a2a2a" stroke-width="1.2"/>
<line x1="424.9" y1="453.04" x2="427.6" y2="453.04" stroke="#2a2a2a" stroke-width="1.2"/>
<line x1="424.9" y1="448.53" x2="427.6" y2="448.53" stroke="#2a2a2a" stroke-width="1.2"/>
<line x1="424.9" y1="444.61" x2="427.6" y2="444.61" stroke="#2a2a2a" stroke-width="1.2"/>
<line x1="424.9" y1="441.16" x2="427.6" y2="441.16" stroke="#2a2a2a" stroke-width="1.2"/>
<line x1="423.2" y1="438.08" x2="427.6" y2="438.08" stroke="#2a2a2a" stroke-width="1.2"/>
<line x1="424.9" y1="417.76" x2="427.6" y2="417.76" stroke="#2a2a2a" stroke-width="1.2"/>
<line x1="424.9" y1="405.88" x2="427.6" y2="405.88" stroke="#2a2a2a" stroke-width="1.2"/>
<line x1="424.9" y1="397.45" x2="427.6" y2="397.45" stroke="#2a2a2a" stroke-width="1.2"/>
<line x1="424.9" y1="390.91" x2="427.6" y2="390.91" stroke="#2a2a2a" stroke-width="1.2"/>
<line x1="424.9" y1="385.57" x2="427.6" y2="385.57" stroke="#2a2a2a" stroke-width="1.2"/>
<line x1="424.9" y1="381.05" x2="427.6" y2="381.05" stroke="#2a2a2a" stroke-width="1.2"/>
<line x1="424.9" y1="377.14" x2="427.6" y2="377.14" stroke="#2a2a2a" stroke-width="1.2"/>
<line x1="424.9" y1="373.69" x2="427.6" y2="373.69" stroke="#2a2a2a" stroke-width="1.2"/>
<line x1="423.2" y1="370.6" x2="427.6" y2="370.6" stroke="#2a2a2a" stroke-width="1.2"/>
<text x="419.9" y="647.5" text-anchor="end" font-size="18.8"><tspan class="one">1</tspan>0<tspan font-size="11.5" dx="-0.9" dy="-9.2">0</tspan></text>
<text x="419.9" y="580.02" text-anchor="end" font-size="18.8"><tspan class="one">1</tspan>0<tspan font-size="11.5" dx="-0.9" dy="-9.2"><tspan class="one">1</tspan></tspan></text>
<text x="419.9" y="512.55" text-anchor="end" font-size="18.8"><tspan class="one">1</tspan>0<tspan font-size="11.5" dx="-0.9" dy="-9.2">2</tspan></text>
<text x="419.9" y="445.08" text-anchor="end" font-size="18.8"><tspan class="one">1</tspan>0<tspan font-size="11.5" dx="-0.9" dy="-9.2">3</tspan></text>
<text x="419.9" y="377.6" text-anchor="end" font-size="18.8"><tspan class="one">1</tspan>0<tspan font-size="11.5" dx="-0.9" dy="-9.2">4</tspan></text>
<text x="556" y="691.8" text-anchor="middle" font-size="18.8">Gate voltage (V)</text>
<text transform="translate(383.7,516.4) rotate(-90)" x="0" y="0" text-anchor="middle" font-size="18.8">Current rectifying ratio</text>
<circle cx="485.27" cy="558.98" r="1.325" fill="#5cacd9"/>
<circle cx="482.35" cy="555.3" r="1.325" fill="#5cacd9"/>
<circle cx="479.43" cy="551.62" r="1.325" fill="#5cacd9"/>
<circle cx="476.5" cy="547.93" r="1.325" fill="#5cacd9"/>
<circle cx="473.58" cy="544.25" r="1.325" fill="#5cacd9"/>
<circle cx="470.66" cy="540.57" r="1.325" fill="#5cacd9"/>
<circle cx="467.73" cy="536.89" r="1.325" fill="#5cacd9"/>
<circle cx="464.81" cy="533.21" r="1.325" fill="#5cacd9"/>
<circle cx="461.89" cy="529.53" r="1.325" fill="#5cacd9"/>
<circle cx="458.97" cy="525.85" r="1.325" fill="#5cacd9"/>
<circle cx="456.04" cy="522.17" r="1.325" fill="#5cacd9"/>
<circle cx="525.17" cy="550.83" r="1.325" fill="#5cacd9"/>
<circle cx="520.95" cy="552.9" r="1.325" fill="#5cacd9"/>
<circle cx="516.73" cy="554.97" r="1.325" fill="#5cacd9"/>
<circle cx="512.52" cy="557.04" r="1.325" fill="#5cacd9"/>
<circle cx="508.3" cy="559.11" r="1.325" fill="#5cacd9"/>
<circle cx="504.08" cy="561.18" r="1.325" fill="#5cacd9"/>
<circle cx="566.96" cy="549.53" r="1.325" fill="#5cacd9"/>
<circle cx="562.28" cy="549.05" r="1.325" fill="#5cacd9"/>
<circle cx="557.6" cy="548.56" r="1.325" fill="#5cacd9"/>
<circle cx="552.93" cy="548.08" r="1.325" fill="#5cacd9"/>
<circle cx="548.25" cy="547.6" r="1.325" fill="#5cacd9"/>
<circle cx="609.9" cy="557.05" r="1.325" fill="#5cacd9"/>
<circle cx="605.29" cy="556.14" r="1.325" fill="#5cacd9"/>
<circle cx="600.68" cy="555.22" r="1.325" fill="#5cacd9"/>
<circle cx="596.07" cy="554.31" r="1.325" fill="#5cacd9"/>
<circle cx="591.46" cy="553.39" r="1.325" fill="#5cacd9"/>
<circle cx="652.78" cy="566.71" r="1.325" fill="#5cacd9"/>
<circle cx="648.2" cy="565.64" r="1.325" fill="#5cacd9"/>
<circle cx="643.62" cy="564.57" r="1.325" fill="#5cacd9"/>
<circle cx="639.05" cy="563.5" r="1.325" fill="#5cacd9"/>
<circle cx="634.47" cy="562.43" r="1.325" fill="#5cacd9"/>
<circle cx="484.9" cy="446.72" r="1.325" fill="#5cacd9"/>
<circle cx="481.81" cy="450.26" r="1.325" fill="#5cacd9"/>
<circle cx="478.72" cy="453.8" r="1.325" fill="#5cacd9"/>
<circle cx="475.64" cy="457.34" r="1.325" fill="#5cacd9"/>
<circle cx="472.55" cy="460.89" r="1.325" fill="#5cacd9"/>
<circle cx="469.46" cy="464.43" r="1.325" fill="#5cacd9"/>
<circle cx="466.37" cy="467.97" r="1.325" fill="#5cacd9"/>
<circle cx="463.28" cy="471.52" r="1.325" fill="#5cacd9"/>
<circle cx="460.19" cy="475.06" r="1.325" fill="#5cacd9"/>
<circle cx="457.11" cy="478.6" r="1.325" fill="#5cacd9"/>
<circle cx="524.14" cy="435.93" r="1.325" fill="#5cacd9"/>
<circle cx="519.46" cy="436.34" r="1.325" fill="#5cacd9"/>
<circle cx="514.78" cy="436.76" r="1.325" fill="#5cacd9"/>
<circle cx="510.1" cy="437.18" r="1.325" fill="#5cacd9"/>
<circle cx="505.41" cy="437.59" r="1.325" fill="#5cacd9"/>
<circle cx="567.29" cy="444.17" r="1.325" fill="#5cacd9"/>
<circle cx="562.76" cy="442.9" r="1.325" fill="#5cacd9"/>
<circle cx="558.24" cy="441.63" r="1.325" fill="#5cacd9"/>
<circle cx="553.71" cy="440.36" r="1.325" fill="#5cacd9"/>
<circle cx="549.19" cy="439.09" r="1.325" fill="#5cacd9"/>
<circle cx="544.66" cy="437.82" r="1.325" fill="#5cacd9"/>
<circle cx="610.11" cy="456.4" r="1.325" fill="#5cacd9"/>
<circle cx="605.59" cy="455.1" r="1.325" fill="#5cacd9"/>
<circle cx="601.07" cy="453.8" r="1.325" fill="#5cacd9"/>
<circle cx="596.56" cy="452.51" r="1.325" fill="#5cacd9"/>
<circle cx="592.04" cy="451.21" r="1.325" fill="#5cacd9"/>
<circle cx="587.52" cy="449.91" r="1.325" fill="#5cacd9"/>
<circle cx="652.56" cy="462.7" r="1.325" fill="#5cacd9"/>
<circle cx="647.88" cy="462.21" r="1.325" fill="#5cacd9"/>
<circle cx="643.21" cy="461.72" r="1.325" fill="#5cacd9"/>
<circle cx="638.53" cy="461.23" r="1.325" fill="#5cacd9"/>
<circle cx="633.86" cy="460.74" r="1.325" fill="#5cacd9"/>
<rect x="443.57" y="507.87" width="10.85" height="10.85" fill="#fff" stroke="#5cacd9" stroke-width="1.85"/>
<rect x="486.38" y="561.78" width="10.85" height="10.85" fill="#fff" stroke="#5cacd9" stroke-width="1.85"/>
<rect x="529.18" y="540.78" width="10.85" height="10.85" fill="#fff" stroke="#5cacd9" stroke-width="1.85"/>
<rect x="571.98" y="545.18" width="10.85" height="10.85" fill="#fff" stroke="#5cacd9" stroke-width="1.85"/>
<rect x="614.78" y="553.68" width="10.85" height="10.85" fill="#fff" stroke="#5cacd9" stroke-width="1.85"/>
<rect x="657.58" y="563.68" width="10.85" height="10.85" fill="#fff" stroke="#5cacd9" stroke-width="1.85"/>
<circle cx="449" cy="487.9" r="7.0" fill="#5cacd9"/>
<circle cx="491.8" cy="438.8" r="7.0" fill="#5cacd9"/>
<circle cx="534.6" cy="435" r="7.0" fill="#5cacd9"/>
<circle cx="577.4" cy="447" r="7.0" fill="#5cacd9"/>
<circle cx="620.2" cy="459.3" r="7.0" fill="#5cacd9"/>
<circle cx="663" cy="463.8" r="7.0" fill="#5cacd9"/>
<circle cx="438.8" cy="384" r="1.325" fill="#5cacd9"/>
<circle cx="460.4" cy="384" r="1.325" fill="#5cacd9"/>
<rect x="446.75" y="379.35" width="9.3" height="9.3" fill="#fff" stroke="#5cacd9" stroke-width="1.85"/>
<text x="468.55" y="387.9" font-size="17.15"><tspan font-size="17.15" dy="0"><tspan class="one">1</tspan>T-PtSe</tspan><tspan font-size="10.5" dx="0.6" dy="6">2</tspan><tspan font-size="17.15" dy="-6">/as-prepared WS</tspan><tspan font-size="10.5" dx="0.6" dy="6">2</tspan></text>
<circle cx="438.8" cy="410.2" r="1.325" fill="#5cacd9"/>
<circle cx="460.4" cy="410.2" r="1.325" fill="#5cacd9"/>
<circle cx="451.4" cy="410.2" r="6.3" fill="#5cacd9"/>
<text x="468.55" y="413.8" font-size="17.15"><tspan font-size="17.15" dy="0"><tspan class="one">1</tspan>T-PtSe</tspan><tspan font-size="10.5" dx="0.6" dy="6">2</tspan><tspan font-size="17.15" dy="-6">/healed WS</tspan><tspan font-size="10.5" dx="0.6" dy="6">2</tspan></text>
<text transform="translate(-0.5,18.0) scale(1.15,1)" x="0" y="0" font-size="25.5" font-weight="bold">a</text>
<text transform="translate(363.8,18.4) scale(1.15,1)" x="0" y="0" font-size="25.5" font-weight="bold">b</text>
<text transform="translate(5.5,373.0) scale(1.15,1)" x="0" y="0" font-size="25.5" font-weight="bold">c</text>
<text transform="translate(363.5,372.8) scale(1.15,1)" x="0" y="0" font-size="25.5" font-weight="bold">d</text>
<path transform="translate(145.89,299.90) scale(0.00918,-0.00918)" d="M763 0L583 0L583 1147Q518 1085 424.5 1030Q331 975 223 935L223 1109Q416 1200 535.5 1305.5Q655 1411 693 1466L763 1466Z" fill="#000"/>
<path transform="translate(216.14,299.90) scale(0.00918,-0.00918)" d="M763 0L583 0L583 1147Q518 1085 424.5 1030Q331 975 223 935L223 1109Q416 1200 535.5 1305.5Q655 1411 693 1466L763 1466Z" fill="#000"/>
<path transform="translate(27.39,279.84) scale(0.00918,-0.00918)" d="M763 0L583 0L583 1147Q518 1085 424.5 1030Q331 975 223 935L223 1109Q416 1200 535.5 1305.5Q655 1411 693 1466L763 1466Z" fill="#000"/>
<path transform="translate(27.39,223.55) scale(0.00918,-0.00918)" d="M763 0L583 0L583 1147Q518 1085 424.5 1030Q331 975 223 935L223 1109Q416 1200 535.5 1305.5Q655 1411 693 1466L763 1466Z" fill="#000"/>
<path transform="translate(47.39,214.35) scale(0.00562,-0.00562)" d="M763 0L583 0L583 1147Q518 1085 424.5 1030Q331 975 223 935L223 1109Q416 1200 535.5 1305.5Q655 1411 693 1466L763 1466Z" fill="#000"/>
<path transform="translate(27.39,167.25) scale(0.00918,-0.00918)" d="M763 0L583 0L583 1147Q518 1085 424.5 1030Q331 975 223 935L223 1109Q416 1200 535.5 1305.5Q655 1411 693 1466L763 1466Z" fill="#000"/>
<path transform="translate(27.39,110.95) scale(0.00918,-0.00918)" d="M763 0L583 0L583 1147Q518 1085 424.5 1030Q331 975 223 935L223 1109Q416 1200 535.5 1305.5Q655 1411 693 1466L763 1466Z" fill="#000"/>
<path transform="translate(27.39,54.65) scale(0.00918,-0.00918)" d="M763 0L583 0L583 1147Q518 1085 424.5 1030Q331 975 223 935L223 1109Q416 1200 535.5 1305.5Q655 1411 693 1466L763 1466Z" fill="#000"/>
<path transform="translate(475.31,300.00) scale(0.00918,-0.00918)" d="M763 0L583 0L583 1147Q518 1085 424.5 1030Q331 975 223 935L223 1109Q416 1200 535.5 1305.5Q655 1411 693 1466L763 1466Z" fill="#000"/>
<path transform="translate(545.55,300.00) scale(0.00918,-0.00918)" d="M763 0L583 0L583 1147Q518 1085 424.5 1030Q331 975 223 935L223 1109Q416 1200 535.5 1305.5Q655 1411 693 1466L763 1466Z" fill="#000"/>
<path transform="translate(393.49,285.40) scale(0.00918,-0.00918)" d="M763 0L583 0L583 1147Q518 1085 424.5 1030Q331 975 223 935L223 1109Q416 1200 535.5 1305.5Q655 1411 693 1466L763 1466Z" fill="#000"/>
<path transform="translate(393.49,212.38) scale(0.00918,-0.00918)" d="M763 0L583 0L583 1147Q518 1085 424.5 1030Q331 975 223 935L223 1109Q416 1200 535.5 1305.5Q655 1411 693 1466L763 1466Z" fill="#000"/>
<path transform="translate(413.49,203.18) scale(0.00562,-0.00562)" d="M763 0L583 0L583 1147Q518 1085 424.5 1030Q331 975 223 935L223 1109Q416 1200 535.5 1305.5Q655 1411 693 1466L763 1466Z" fill="#000"/>
<path transform="translate(393.49,139.36) scale(0.00918,-0.00918)" d="M763 0L583 0L583 1147Q518 1085 424.5 1030Q331 975 223 935L223 1109Q416 1200 535.5 1305.5Q655 1411 693 1466L763 1466Z" fill="#000"/>
<path transform="translate(393.49,66.34) scale(0.00918,-0.00918)" d="M763 0L583 0L583 1147Q518 1085 424.5 1030Q331 975 223 935L223 1109Q416 1200 535.5 1305.5Q655 1411 693 1466L763 1466Z" fill="#000"/>
<path transform="translate(468.95,24.90) scale(0.00837,-0.00837)" d="M763 0L583 0L583 1147Q518 1085 424.5 1030Q331 975 223 935L223 1109Q416 1200 535.5 1305.5Q655 1411 693 1466L763 1466Z" fill="#000"/>
<path transform="translate(468.95,50.70) scale(0.00837,-0.00837)" d="M763 0L583 0L583 1147Q518 1085 424.5 1030Q331 975 223 935L223 1109Q416 1200 535.5 1305.5Q655 1411 693 1466L763 1466Z" fill="#000"/>
<path transform="translate(75.58,661.90) scale(0.00918,-0.00918)" d="M763 0L583 0L583 1147Q518 1085 424.5 1030Q331 975 223 935L223 1109Q416 1200 535.5 1305.5Q655 1411 693 1466L763 1466Z" fill="#000"/>
<path transform="translate(158.05,661.90) scale(0.00918,-0.00918)" d="M763 0L583 0L583 1147Q518 1085 424.5 1030Q331 975 223 935L223 1109Q416 1200 535.5 1305.5Q655 1411 693 1466L763 1466Z" fill="#000"/>
<path transform="translate(27.39,647.30) scale(0.00918,-0.00918)" d="M763 0L583 0L583 1147Q518 1085 424.5 1030Q331 975 223 935L223 1109Q416 1200 535.5 1305.5Q655 1411 693 1466L763 1466Z" fill="#000"/>
<path transform="translate(27.39,547.04) scale(0.00918,-0.00918)" d="M763 0L583 0L583 1147Q518 1085 424.5 1030Q331 975 223 935L223 1109Q416 1200 535.5 1305.5Q655 1411 693 1466L763 1466Z" fill="#000"/>
<path transform="translate(47.39,537.84) scale(0.00562,-0.00562)" d="M763 0L583 0L583 1147Q518 1085 424.5 1030Q331 975 223 935L223 1109Q416 1200 535.5 1305.5Q655 1411 693 1466L763 1466Z" fill="#000"/>
<path transform="translate(27.39,446.78) scale(0.00918,-0.00918)" d="M763 0L583 0L583 1147Q518 1085 424.5 1030Q331 975 223 935L223 1109Q416 1200 535.5 1305.5Q655 1411 693 1466L763 1466Z" fill="#000"/>
<path transform="translate(89.90,385.60) scale(0.00825,-0.00825)" d="M763 0L583 0L583 1147Q518 1085 424.5 1030Q331 975 223 935L223 1109Q416 1200 535.5 1305.5Q655 1411 693 1466L763 1466Z" fill="#000"/>
<path transform="translate(89.90,411.40) scale(0.00840,-0.00840)" d="M763 0L583 0L583 1147Q518 1085 424.5 1030Q331 975 223 935L223 1109Q416 1200 535.5 1305.5Q655 1411 693 1466L763 1466Z" fill="#000"/>
<path transform="translate(441.68,662.10) scale(0.00918,-0.00918)" d="M763 0L583 0L583 1147Q518 1085 424.5 1030Q331 975 223 935L223 1109Q416 1200 535.5 1305.5Q655 1411 693 1466L763 1466Z" fill="#000"/>
<path transform="translate(524.15,662.10) scale(0.00918,-0.00918)" d="M763 0L583 0L583 1147Q518 1085 424.5 1030Q331 975 223 935L223 1109Q416 1200 535.5 1305.5Q655 1411 693 1466L763 1466Z" fill="#000"/>
<path transform="translate(393.49,647.50) scale(0.00918,-0.00918)" d="M763 0L583 0L583 1147Q518 1085 424.5 1030Q331 975 223 935L223 1109Q416 1200 535.5 1305.5Q655 1411 693 1466L763 1466Z" fill="#000"/>
<path transform="translate(393.49,580.02) scale(0.00918,-0.00918)" d="M763 0L583 0L583 1147Q518 1085 424.5 1030Q331 975 223 935L223 1109Q416 1200 535.5 1305.5Q655 1411 693 1466L763 1466Z" fill="#000"/>
<path transform="translate(413.49,570.82) scale(0.00562,-0.00562)" d="M763 0L583 0L583 1147Q518 1085 424.5 1030Q331 975 223 935L223 1109Q416 1200 535.5 1305.5Q655 1411 693 1466L763 1466Z" fill="#000"/>
<path transform="translate(393.49,512.55) scale(0.00918,-0.00918)" d="M763 0L583 0L583 1147Q518 1085 424.5 1030Q331 975 223 935L223 1109Q416 1200 535.5 1305.5Q655 1411 693 1466L763 1466Z" fill="#000"/>
<path transform="translate(393.49,445.08) scale(0.00918,-0.00918)" d="M763 0L583 0L583 1147Q518 1085 424.5 1030Q331 975 223 935L223 1109Q416 1200 535.5 1305.5Q655 1411 693 1466L763 1466Z" fill="#000"/>
<path transform="translate(393.49,377.60) scale(0.00918,-0.00918)" d="M763 0L583 0L583 1147Q518 1085 424.5 1030Q331 975 223 935L223 1109Q416 1200 535.5 1305.5Q655 1411 693 1466L763 1466Z" fill="#000"/>
<path transform="translate(468.55,387.90) scale(0.00837,-0.00837)" d="M763 0L583 0L583 1147Q518 1085 424.5 1030Q331 975 223 935L223 1109Q416 1200 535.5 1305.5Q655 1411 693 1466L763 1466Z" fill="#000"/>
<path transform="translate(468.55,413.80) scale(0.00837,-0.00837)" d="M763 0L583 0L583 1147Q518 1085 424.5 1030Q331 975 223 935L223 1109Q416 1200 535.5 1305.5Q655 1411 693 1466L763 1466Z" fill="#000"/>
</svg>
</body></html>
